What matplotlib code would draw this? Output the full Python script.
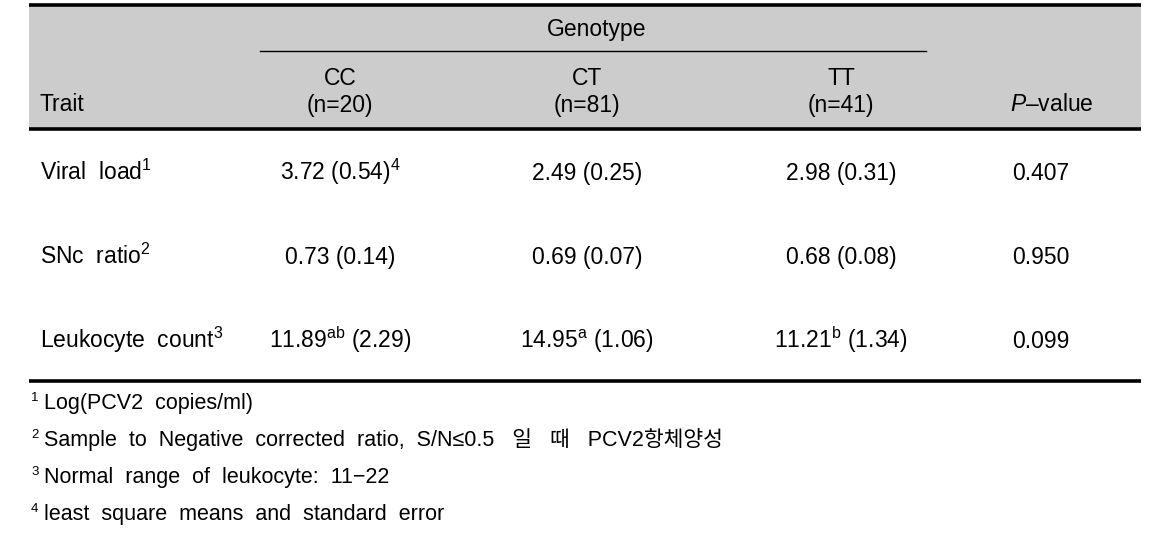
import matplotlib
matplotlib.use('Agg')
import matplotlib.pyplot as plt
from matplotlib.patches import Rectangle

plt.rcParams.update({
    'font.family': ['Liberation Sans', 'Noto Sans CJK KR', 'DejaVu Sans'],
    'mathtext.fontset': 'custom',
    'mathtext.rm': 'Liberation Sans',
    'mathtext.it': 'Liberation Sans:italic',
    'mathtext.bf': 'Liberation Sans:bold',
})

# === table content ===
genotypes = ['CC', 'CT', 'TT']
group_n = [20, 81, 41]
traits = ['Viral  load', 'SNc  ratio', 'Leukocyte  count']
trait_notes = ['1', '2', '3']

means = [[3.72, 2.49, 2.98],
         [0.73, 0.69, 0.68],
         [11.89, 14.95, 11.21]]
ses = [[0.54, 0.25, 0.31],
       [0.14, 0.07, 0.08],
       [2.29, 1.06, 1.34]]
letters = [['', '', ''],
           ['', '', ''],
           ['ab', 'a', 'b']]
cell_notes = [['4', '', ''],
              ['', '', ''],
              ['', '', '']]
p_values = ['0.407', '0.950', '0.099']

footnotes = ['Log(PCV2  copies/ml)',
             'Sample  to  Negative  corrected  ratio,  S/N\u22640.5   일   때   PCV2항체양성',
             'Normal  range  of  leukocyte:  11\u221222',
             'least  square  means  and  standard  error']

GRAY = '#cccccc'
FS = 16.5
FS_FOOT = 15.5

fig = plt.figure(figsize=(11.49, 5.34), dpi=100)
ax = fig.add_axes([0, 0, 1, 1])
ax.set_xlim(0, 1149)
ax.set_ylim(534, 0)
ax.axis('off')

left, right = 29, 1141
col_x = [340, 587, 841]
p_x = 1041

# header band and rules
ax.add_patch(Rectangle((left, 6), right - left, 122, facecolor=GRAY, edgecolor='none', zorder=0))
for y in (5, 129, 381):
    ax.plot([left, right], [y, y], color='black', lw=2.6, solid_capstyle='butt')
ax.plot([260, 926], [51, 51], color='black', lw=1.0)

ax.text(597, 36, 'Genotype', ha='center', va='baseline', fontsize=FS)
for x, g, n in zip(col_x, genotypes, group_n):
    ax.text(x, 85, g, ha='center', va='baseline', fontsize=FS)
    ax.text(x, 112, f'(n={n})', ha='center', va='baseline', fontsize=FS)
ax.text(40, 111, 'Trait', ha='left', va='baseline', fontsize=FS)
ax.text(1052, 111, r'$\mathit{P}$' + '\u2013value', ha='center', va='baseline', fontsize=FS)

row_base = [180, 264, 348]
for i, y in enumerate(row_base):
    ax.text(40, y, traits[i] + r'$^{\mathrm{' + trait_notes[i] + '}}$',
            ha='left', va='baseline', fontsize=FS)
    for j, x in enumerate(col_x):
        s = f'{means[i][j]:.2f}'
        if letters[i][j]:
            s += r'$^{\mathrm{' + letters[i][j] + '}}$'
        s += f' ({ses[i][j]:.2f})'
        if cell_notes[i][j]:
            s += r'$^{\mathrm{' + cell_notes[i][j] + '}}$'
        ax.text(x, y, s, ha='center', va='baseline', fontsize=FS)
    ax.text(p_x, y, p_values[i], ha='center', va='baseline', fontsize=FS)

foot_base = [409, 446, 483, 520]
for k, (y, note) in enumerate(zip(foot_base, footnotes)):
    ax.text(31, y - 8, str(k + 1), ha='left', va='baseline', fontsize=9.5)
    ax.text(44, y, note, ha='left', va='baseline', fontsize=FS_FOOT)

fig.savefig('out.png', dpi=100, facecolor='white')
plt.close(fig)
